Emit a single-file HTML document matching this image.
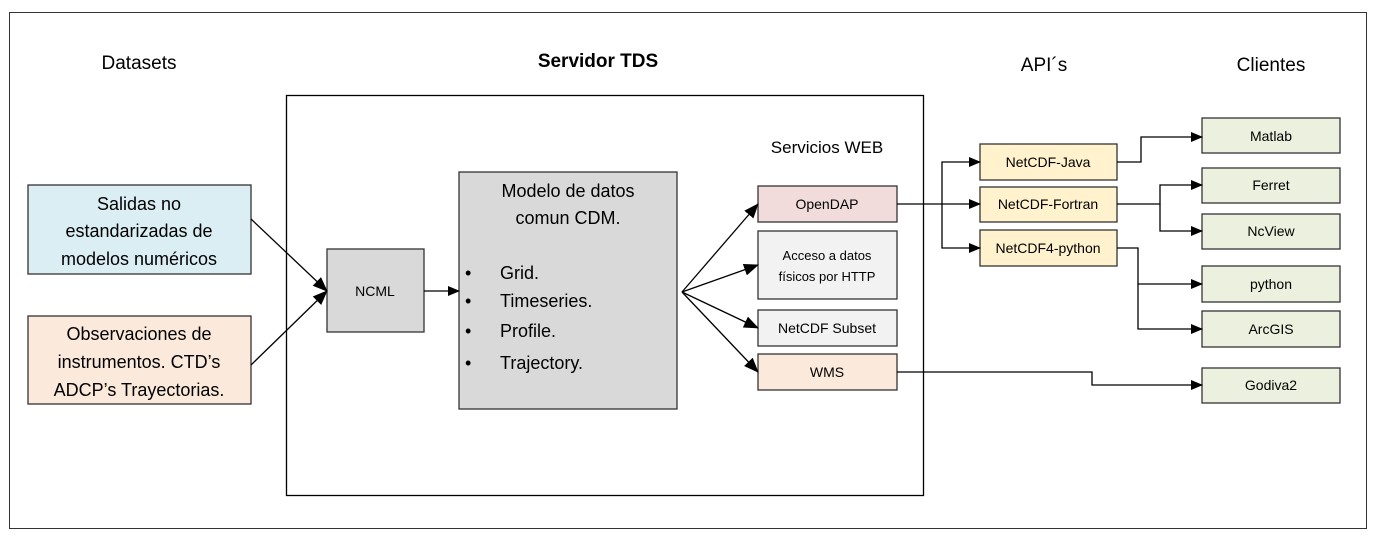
<!DOCTYPE html>
<html><head><meta charset="utf-8"><style>
html,body{margin:0;padding:0;background:#fff;}
svg{display:block;font-family:"Liberation Sans",sans-serif;}
</style></head><body>
<svg width="1376" height="540" viewBox="0 0 1376 540" xmlns="http://www.w3.org/2000/svg">
<defs>
<marker id="a" markerWidth="12" markerHeight="10" refX="11" refY="5" orient="auto" markerUnits="userSpaceOnUse"><path d="M0,0 L12,5 L0,10 Z" fill="#000"/></marker>
<marker id="b" markerWidth="15" markerHeight="12" refX="14" refY="6" orient="auto" markerUnits="userSpaceOnUse"><path d="M0,0 L15,6 L0,12 Z" fill="#000"/></marker>
</defs>
<rect x="9.5" y="12.5" width="1357" height="516" fill="none" stroke="#333" stroke-width="1"/>
<rect x="286.5" y="95.5" width="637" height="400" fill="none" stroke="#000" stroke-width="1.3"/>
<g font-size="19" text-anchor="middle">
<text x="139" y="69">Datasets</text>
<text x="598" y="67" font-weight="bold">Servidor TDS</text>
<text x="1044" y="71">API´s</text>
<text x="1271" y="71">Clientes</text>
<text x="827" y="153" font-size="17">Servicios WEB</text>
</g>
<g stroke="#333" stroke-width="1.3">
<rect x="28" y="185" width="223" height="89" fill="#dbeef4"/>
<rect x="28" y="316" width="223" height="88" fill="#fbe9db"/>
<rect x="327" y="249" width="97" height="83" fill="#d9d9d9"/>
<rect x="459" y="172" width="218" height="237" fill="#d9d9d9"/>
<rect x="758" y="186" width="139" height="36" fill="#f2dcdb"/>
<rect x="758" y="231" width="139" height="68" fill="#f2f2f2"/>
<rect x="758" y="310" width="139" height="36" fill="#f2f2f2"/>
<rect x="758" y="354" width="139" height="36" fill="#fbe9db"/>
<rect x="980" y="144" width="137" height="36" fill="#fff2cc"/>
<rect x="980" y="187" width="137" height="35" fill="#fff2cc"/>
<rect x="980" y="230" width="137" height="36" fill="#fff2cc"/>
<rect x="1202" y="118" width="138" height="35" fill="#ebf1de"/>
<rect x="1202" y="168" width="138" height="35" fill="#ebf1de"/>
<rect x="1202" y="214" width="138" height="35" fill="#ebf1de"/>
<rect x="1202" y="266" width="138" height="36" fill="#ebf1de"/>
<rect x="1202" y="311" width="138" height="36" fill="#ebf1de"/>
<rect x="1202" y="368" width="138" height="35" fill="#ebf1de"/>
</g>
<g font-size="18" text-anchor="middle">
<text x="139" y="210">Salidas no</text>
<text x="139" y="237">estandarizadas de</text>
<text x="139" y="265">modelos numéricos</text>
<text x="139" y="340">Observaciones de</text>
<text x="139" y="368">instrumentos. CTD’s</text>
<text x="139" y="396">ADCP’s Trayectorias.</text>
<text x="568" y="197">Modelo de datos</text>
<text x="568" y="224">comun CDM.</text>
</g>
<g font-size="18">
<text x="465" y="279">•</text><text x="500" y="279">Grid.</text>
<text x="465" y="307">•</text><text x="500" y="307">Timeseries.</text>
<text x="465" y="337">•</text><text x="500" y="337">Profile.</text>
<text x="465" y="369">•</text><text x="500" y="369">Trajectory.</text>
</g>
<g font-size="14" text-anchor="middle">
<text x="375" y="296">NCML</text>
<text x="827" y="209">OpenDAP</text>
<text x="827" y="260" font-size="13">Acceso a datos</text>
<text x="827" y="281" font-size="13">físicos por HTTP</text>
<text x="827" y="333">NetCDF Subset</text>
<text x="827" y="377">WMS</text>
<text x="1048" y="167">NetCDF-Java</text>
<text x="1048" y="209">NetCDF-Fortran</text>
<text x="1048" y="253">NetCDF4-python</text>
<text x="1271" y="141">Matlab</text>
<text x="1271" y="190">Ferret</text>
<text x="1271" y="236">NcView</text>
<text x="1271" y="289">python</text>
<text x="1271" y="334">ArcGIS</text>
<text x="1271" y="390">Godiva2</text>
</g>
<g stroke="#000" stroke-width="1.3" fill="none">
<line x1="251" y1="219" x2="327" y2="291" marker-end="url(#b)"/>
<line x1="251" y1="365" x2="327" y2="291" marker-end="url(#b)"/>
<line x1="424" y1="291" x2="459" y2="291" marker-end="url(#a)"/>
<line x1="682" y1="292" x2="758" y2="204" marker-end="url(#b)"/>
<line x1="682" y1="292" x2="758" y2="265" marker-end="url(#b)"/>
<line x1="682" y1="292" x2="758" y2="328" marker-end="url(#b)"/>
<line x1="682" y1="292" x2="758" y2="372" marker-end="url(#b)"/>
<polyline points="897,204 980,204" marker-end="url(#a)"/>
<polyline points="942,204 942,162 980,162" marker-end="url(#a)"/>
<polyline points="942,204 942,248 980,248" marker-end="url(#a)"/>
<polyline points="1117,162 1141,162 1141,137 1202,137" marker-end="url(#a)"/>
<polyline points="1117,204 1160,204 1160,185 1202,185" marker-end="url(#a)"/>
<polyline points="1160,204 1160,231 1202,231" marker-end="url(#a)"/>
<polyline points="1117,248 1138,248 1138,284 1202,284" marker-end="url(#a)"/>
<polyline points="1138,284 1138,329 1202,329" marker-end="url(#a)"/>
<polyline points="897,372 1092,372 1092,385 1202,385" marker-end="url(#a)"/>
</g>
</svg>
</body></html>
